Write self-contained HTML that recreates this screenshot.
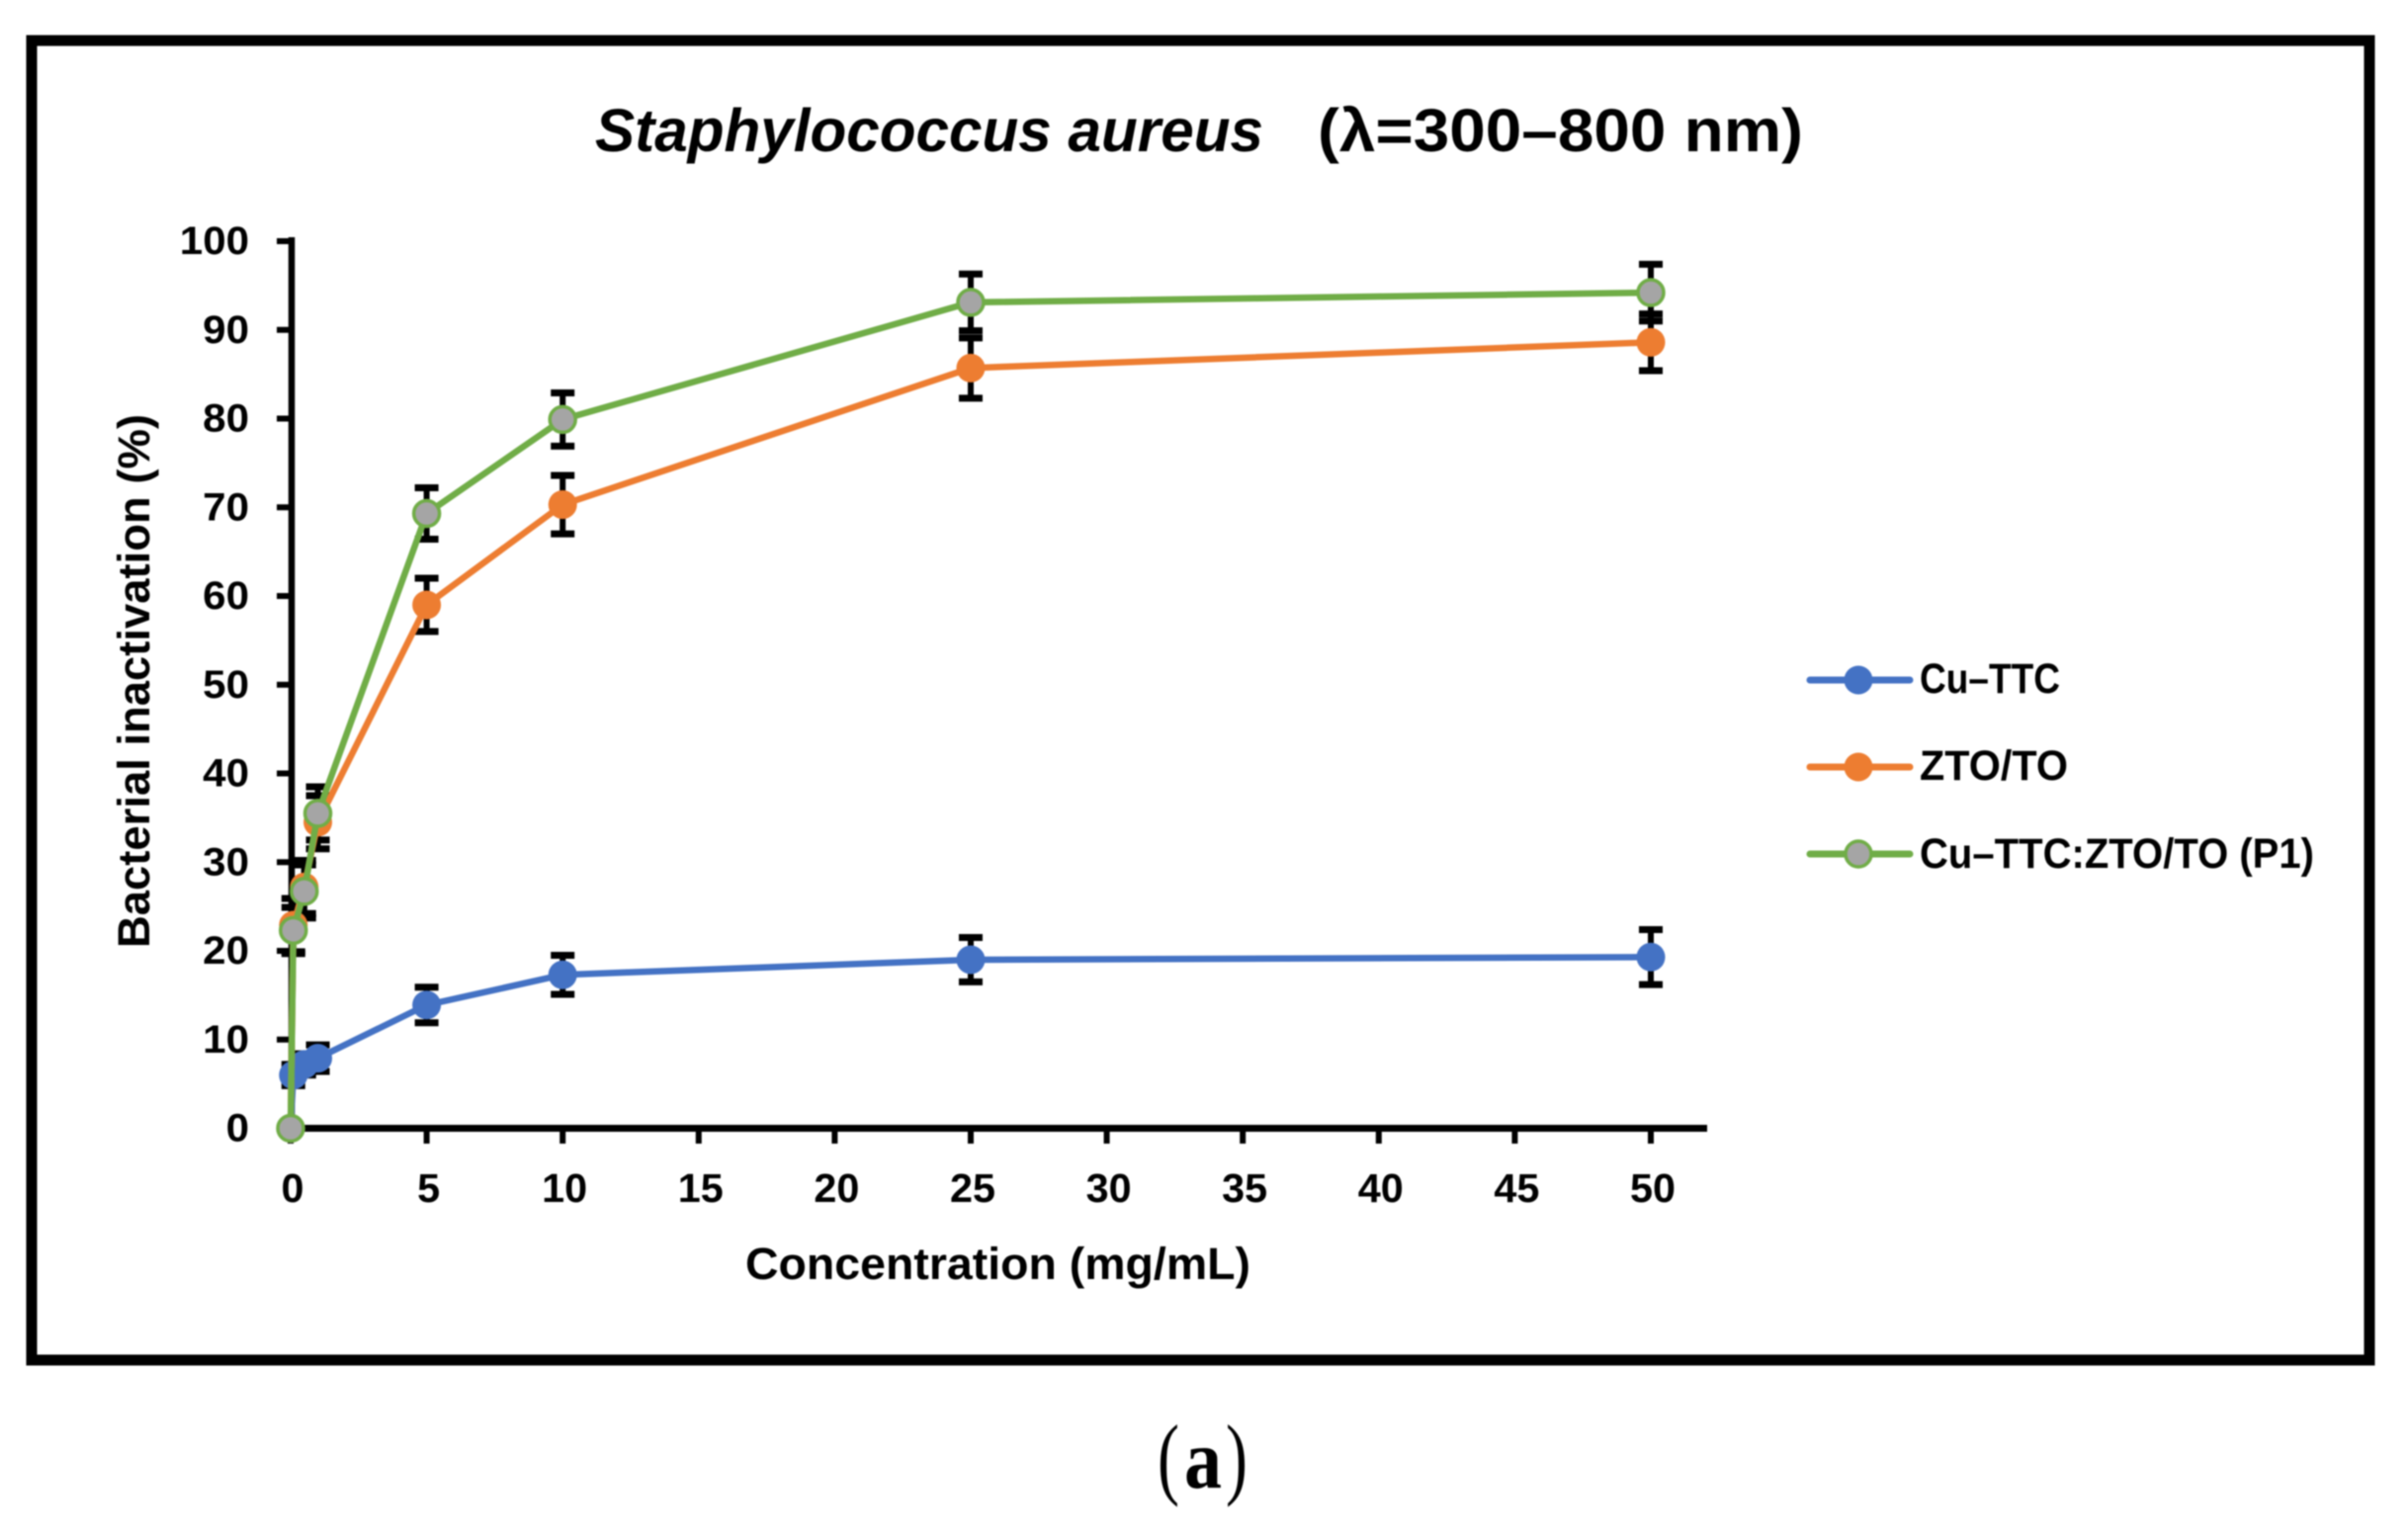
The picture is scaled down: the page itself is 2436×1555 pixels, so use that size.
<!DOCTYPE html>
<html lang="en">
<head>
<meta charset="utf-8">
<title>Staphylococcus aureus bacterial inactivation</title>
<style>
html,body{margin:0;padding:0;background:#fff;}
body{width:2436px;height:1555px;overflow:hidden;}
svg{display:block;filter:blur(0.8px);}
text{font-family:"Liberation Sans",sans-serif;fill:#000;font-weight:bold;}
</style>
</head>
<body>
<svg id="chart" xmlns="http://www.w3.org/2000/svg" width="2436" height="1555" viewBox="0 0 2436 1555">
  <rect x="0" y="0" width="2436" height="1555" fill="#fff"/>
  <rect x="32" y="41" width="2365" height="1335" fill="#fff" stroke="#000" stroke-width="11"/>
  <g>
    <text x="602" y="153" font-size="61" font-style="italic" textLength="676" lengthAdjust="spacingAndGlyphs">Staphylococcus aureus</text>
    <text x="1333" y="153" font-size="61" textLength="491" lengthAdjust="spacingAndGlyphs">(λ=300–800 nm)</text>
  </g>
  <text transform="translate(151 959) rotate(-90)" x="0" y="0" font-size="45" textLength="540" lengthAdjust="spacingAndGlyphs">Bacterial inactivation (%)</text>
  <text x="754" y="1294" font-size="45" textLength="511" lengthAdjust="spacingAndGlyphs">Concentration (mg/mL)</text>
  <g id="axes"></g>
  <g id="errors"></g>
  <g id="series"></g>
  <g>
    <g>
      <line x1="1831" y1="688" x2="1932" y2="688" stroke="#4472C4" stroke-width="7" stroke-linecap="round"/>
      <circle cx="1880" cy="688" r="14.5" fill="#4472C4"/>
      <text x="1942" y="701" font-size="43" textLength="142" lengthAdjust="spacingAndGlyphs">Cu–TTC</text>
    </g>
    <g>
      <line x1="1831" y1="776" x2="1932" y2="776" stroke="#ED7D31" stroke-width="7" stroke-linecap="round"/>
      <circle cx="1880" cy="776" r="14.5" fill="#ED7D31"/>
      <text x="1942" y="789" font-size="43" textLength="150" lengthAdjust="spacingAndGlyphs">ZTO/TO</text>
    </g>
    <g>
      <line x1="1831" y1="864" x2="1932" y2="864" stroke="#70AD47" stroke-width="7" stroke-linecap="round"/>
      <circle cx="1880" cy="864" r="13" fill="#A5A5A5" stroke="#70AD47" stroke-width="3.5"/>
      <text x="1942" y="878" font-size="43" textLength="399" lengthAdjust="spacingAndGlyphs">Cu–TTC:ZTO/TO (P1)</text>
    </g>
  </g>
  <g style="font-family:'Liberation Serif',serif">
    <text x="1171" y="1505" font-size="92" textLength="22" lengthAdjust="spacingAndGlyphs" style="font-family:'Liberation Serif',serif;font-weight:normal">(</text>
    <text x="1198" y="1505" font-size="86" textLength="38" lengthAdjust="spacingAndGlyphs" style="font-family:'Liberation Serif',serif;font-weight:bold">a</text>
    <text x="1240" y="1505" font-size="92" textLength="22" lengthAdjust="spacingAndGlyphs" style="font-family:'Liberation Serif',serif;font-weight:normal">)</text>
  </g>
</svg>
<script>
const concentrations = [0, 0.1, 0.5, 1, 5, 10, 25, 50];
const cuTtcValues = [0, 6, 7.2, 7.9, 13.9, 17.3, 19, 19.3];
const cuTtcErrors = [0, 1.2, 1.2, 1.5, 2, 2.2, 2.5, 3.1];
const ztoToValues = [0, 22.9, 27.2, 34.5, 59, 70.3, 85.7, 88.6];
const ztoToErrors = [0, 3, 3, 3, 3, 3.3, 3.4, 3.2];
const p1Values = [0, 22.3, 26.7, 35.5, 69.3, 79.9, 93.1, 94.2];
const p1Errors = [0, 2.6, 3, 3, 2.9, 3, 3.2, 3.2];
const xTickLabels = [0, 5, 10, 15, 20, 25, 30, 35, 40, 45, 50];
const yTickLabels = [0, 10, 20, 30, 40, 50, 60, 70, 80, 90, 100];

const NS = 'http://www.w3.org/2000/svg';
const xScale = v => 294 + v * 27.52;
const yScale = v => 1141.5 - v * 8.975;

function make(tag, attrs, parent) {
  const el = document.createElementNS(NS, tag);
  for (const k in attrs) el.setAttribute(k, attrs[k]);
  parent.appendChild(el);
  return el;
}

const axes = document.getElementById('axes');
const errorsLayer = document.getElementById('errors');
const seriesLayer = document.getElementById('series');

const yLine = make('line', {x1: xScale(0) + 1, y1: yScale(100) - 4, x2: xScale(0) + 1, y2: yScale(0) + 3.5, stroke: '#000', 'stroke-width': 6.5}, axes);


const xLine = make('line', {x1: xScale(0) - 2, y1: yScale(0), x2: 1727, y2: yScale(0), stroke: '#000', 'stroke-width': 7}, axes);



yTickLabels.forEach(t => {
  const tick = make('line', {x1: 280, y1: yScale(t), x2: xScale(0), y2: yScale(t), stroke: '#000', 'stroke-width': 6}, axes);
  
  
  const label = make('text', {x: 252, y: yScale(t) + 13, 'font-size': 40, 'text-anchor': 'end', textLength: String(t).length * 23.4, lengthAdjust: 'spacingAndGlyphs'}, axes);
  label.textContent = t;
  
  
});

xTickLabels.forEach(t => {
  const tick = make('line', {x1: xScale(t), y1: yScale(0), x2: xScale(t), y2: 1157, stroke: '#000', 'stroke-width': 6}, axes);
  
  
  const label = make('text', {x: xScale(t) + 2, y: 1216, 'font-size': 41, 'text-anchor': 'middle', textLength: String(t).length * 23, lengthAdjust: 'spacingAndGlyphs'}, axes);
  label.textContent = t;
  
  
});

function drawErrors(values, errors, seriesName) {
  concentrations.forEach((c, i) => {
    if (!errors[i]) return;
    const g = make('g', {stroke: '#000'}, errorsLayer);
    
    
    const x = xScale(c);
    const top = yScale(values[i] + errors[i]);
    const bottom = yScale(values[i] - errors[i]);
    make('line', {x1: x, y1: top, x2: x, y2: bottom, 'stroke-width': 6}, g);
    make('line', {x1: x - 12, y1: top, x2: x + 12, y2: top, 'stroke-width': 7}, g);
    make('line', {x1: x - 12, y1: bottom, x2: x + 12, y2: bottom, 'stroke-width': 7}, g);
  });
}

function drawSeries(values, color, fill, seriesName) {
  const g = make('g', {}, seriesLayer);
  
  
  const pts = concentrations.map((c, i) => xScale(c) + ',' + yScale(values[i])).join(' ');
  const line = make('polyline', {points: pts, fill: 'none', stroke: color, 'stroke-width': 6.5, 'stroke-linejoin': 'round'}, g);
  
  
  concentrations.forEach((c, i) => {
    const hollow = fill !== color;
    const dot = make('circle', {cx: xScale(c), cy: yScale(values[i]), r: hollow ? 13 : 14.5, fill: fill, stroke: hollow ? color : 'none', 'stroke-width': hollow ? 3.5 : 0}, g);
    
    
  });
}

drawErrors(cuTtcValues, cuTtcErrors, 'cu-ttc');
drawErrors(ztoToValues, ztoToErrors, 'zto-to');
drawErrors(p1Values, p1Errors, 'cu-ttc-zto-to-p1');
drawSeries(cuTtcValues, '#4472C4', '#4472C4', 'cu-ttc');
drawSeries(ztoToValues, '#ED7D31', '#ED7D31', 'zto-to');
drawSeries(p1Values, '#70AD47', '#A5A5A5', 'cu-ttc-zto-to-p1');
</script>
</body>
</html>
